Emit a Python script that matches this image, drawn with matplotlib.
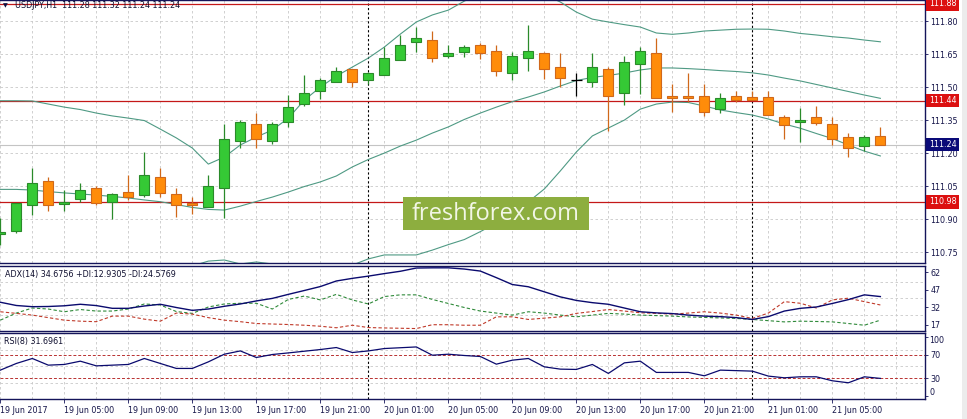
import matplotlib as mpl

mpl.use("Agg")

import matplotlib.pyplot as plt
import matplotlib.transforms as mtransforms
from matplotlib.patches import Rectangle

# ---- data (USDJPY H1, 19-21 Jun 2017) ----
OPENS = [110.832, 110.848, 110.964, 111.073, 110.971, 110.991, 111.041, 110.980, 111.023, 111.010,
         111.091, 111.015, 110.974, 110.955, 111.041, 111.255, 111.332, 111.255, 111.341, 111.423,
         111.483, 111.524, 111.582, 111.532, 111.555, 111.623, 111.705, 111.714, 111.641, 111.662,
         111.691, 111.664, 111.564, 111.632, 111.655, 111.591, 111.532, 111.523, 111.582, 111.473,
         111.605, 111.655, 111.462, 111.462, 111.462, 111.403, 111.462, 111.455, 111.455, 111.364,
         111.341, 111.364, 111.332, 111.273, 111.232, 111.280]
HIGHS = [110.906, 110.974, 111.135, 111.094, 111.033, 111.065, 111.051, 111.021, 111.101, 111.205,
         111.135, 111.041, 111.003, 111.101, 111.333, 111.351, 111.382, 111.341, 111.465, 111.556,
         111.541, 111.592, 111.582, 111.571, 111.682, 111.736, 111.773, 111.756, 111.692, 111.692,
         111.700, 111.692, 111.662, 111.783, 111.662, 111.655, 111.566, 111.655, 111.591, 111.641,
         111.682, 111.723, 111.515, 111.565, 111.515, 111.473, 111.483, 111.483, 111.483, 111.373,
         111.405, 111.414, 111.364, 111.291, 111.282, 111.320]
LOWS = [110.783, 110.839, 110.920, 110.939, 110.939, 110.980, 110.965, 110.903, 110.988, 111.003,
        111.003, 110.912, 110.924, 110.955, 110.905, 111.223, 111.223, 111.241, 111.321, 111.415,
        111.445, 111.524, 111.503, 111.514, 111.555, 111.623, 111.662, 111.614, 111.632, 111.639,
        111.629, 111.553, 111.532, 111.573, 111.539, 111.500, 111.462, 111.500, 111.303, 111.421,
        111.470, 111.453, 111.389, 111.435, 111.371, 111.382, 111.432, 111.442, 111.373, 111.264,
        111.253, 111.330, 111.239, 111.182, 111.212, 111.240]
CLOSES = [110.841, 110.973, 111.064, 110.964, 110.980, 111.032, 110.973, 111.014, 111.003, 111.101,
          111.021, 110.964, 110.964, 111.051, 111.264, 111.341, 111.264, 111.332, 111.412, 111.473,
          111.532, 111.574, 111.523, 111.564, 111.632, 111.691, 111.723, 111.632, 111.655, 111.682,
          111.655, 111.573, 111.641, 111.664, 111.582, 111.541, 111.532, 111.591, 111.462, 111.614,
          111.664, 111.453, 111.453, 111.453, 111.389, 111.453, 111.442, 111.442, 111.373, 111.330,
          111.350, 111.339, 111.264, 111.223, 111.273, 111.240]

BB_UPPER = [111.439, 111.439, 111.438, 111.424, 111.410, 111.399, 111.383, 111.370, 111.360, 111.349,
            111.310, 111.270, 111.224, 111.151, 111.183, 111.238, 111.274, 111.306, 111.360, 111.442,
            111.501, 111.551, 111.592, 111.633, 111.683, 111.742, 111.797, 111.829, 111.851, 111.892,
            111.924, 111.942, 111.951, 111.942, 111.920, 111.888, 111.842, 111.810, 111.797, 111.785,
            111.774, 111.747, 111.741, 111.747, 111.756, 111.760, 111.764, 111.765, 111.764, 111.756,
            111.745, 111.738, 111.730, 111.724, 111.715, 111.707]
BB_MIDDLE = [111.036, 111.036, 111.033, 111.026, 111.020, 111.015, 111.010, 111.004, 110.997, 110.988,
             110.980, 110.967, 110.954, 110.945, 110.942, 110.960, 110.981, 111.001, 111.024, 111.049,
             111.070, 111.097, 111.138, 111.172, 111.201, 111.233, 111.260, 111.292, 111.320, 111.354,
             111.383, 111.410, 111.435, 111.456, 111.479, 111.506, 111.531, 111.545, 111.554, 111.565,
             111.579, 111.588, 111.588, 111.585, 111.581, 111.576, 111.572, 111.566, 111.556, 111.542,
             111.529, 111.513, 111.497, 111.481, 111.465, 111.450]
BB_LOWER = [110.634, 110.634, 110.629, 110.629, 110.629, 110.631, 110.638, 110.638, 110.633, 110.626,
            110.650, 110.665, 110.688, 110.710, 110.715, 110.697, 110.706, 110.697, 110.688, 110.656,
            110.638, 110.642, 110.692, 110.720, 110.738, 110.738, 110.738, 110.760, 110.785, 110.808,
            110.844, 110.883, 110.929, 110.979, 111.038, 111.120, 111.206, 111.279, 111.315, 111.351,
            111.401, 111.424, 111.433, 111.431, 111.415, 111.397, 111.385, 111.374, 111.356, 111.333,
            111.314, 111.290, 111.267, 111.238, 111.210, 111.188]

ADX = [36.19, 33.40, 32.36, 32.53, 33.14, 34.45, 33.32, 30.96, 30.96, 32.97,
       34.45, 31.66, 29.22, 30.35, 32.71, 34.71, 37.33, 39.51, 42.99, 46.31,
       49.71, 54.50, 56.77, 58.69, 60.87, 62.87, 65.66, 65.84, 65.84, 64.79,
       63.05, 57.38, 51.45, 49.53, 45.17, 40.81, 37.76, 35.84, 34.45, 31.22,
       28.00, 27.04, 26.43, 25.12, 24.25, 23.81, 22.94, 21.37, 23.81, 28.61,
       30.96, 32.10, 35.15, 38.46, 42.56, 41.08]
PLUS_DI = [20.76, 26.86, 31.22, 30.35, 28.00, 29.92, 28.61, 28.61, 30.35, 34.71,
           33.84, 28.17, 26.60, 32.10, 34.71, 35.32, 35.32, 30.35, 38.63, 41.51,
           38.20, 42.99, 38.20, 34.71, 41.08, 42.56, 42.56, 38.63, 35.14, 31.66,
           28.61, 26.86, 25.12, 28.00, 26.86, 25.12, 23.64, 25.12, 26.60, 25.99,
           25.12, 24.69, 24.25, 23.55, 23.12, 22.68, 22.25, 21.37, 20.33, 19.28,
           19.89, 19.63, 19.28, 17.88, 16.40, 20.76]
MINUS_DI = [28.00, 26.60, 25.12, 22.94, 20.76, 19.89, 19.45, 24.25, 24.25, 21.63,
            19.89, 26.86, 25.99, 22.94, 20.76, 19.45, 17.88, 17.45, 17.01, 16.40,
            15.53, 14.22, 16.40, 14.40, 14.05, 13.79, 13.53, 16.84, 16.84, 16.40,
            16.40, 23.64, 23.64, 21.37, 22.50, 23.64, 26.60, 28.18, 29.92, 28.61,
            27.13, 26.60, 25.99, 26.86, 28.00, 26.86, 25.12, 22.25, 26.86, 36.72,
            35.32, 31.22, 38.20, 39.68, 36.72, 33.84]
RSI = [43.83, 55.00, 63.33, 52.17, 53.33, 58.83, 51.00, 52.17, 53.33, 63.33,
       55.00, 46.67, 46.67, 57.67, 70.50, 76.00, 65.00, 70.00, 72.67, 75.50,
       78.33, 81.67, 73.33, 76.00, 80.00, 81.33, 82.67, 68.83, 70.50, 68.33,
       66.67, 53.83, 60.50, 63.33, 49.33, 45.50, 45.00, 53.33, 38.33, 56.00,
       58.83, 40.00, 40.00, 40.00, 34.33, 43.83, 43.00, 42.17, 33.83, 31.00,
       32.67, 32.67, 26.00, 22.67, 32.67, 30.00]

PRICE_TICKS = [110.75, 110.90, 111.05, 111.20, 111.35, 111.50, 111.65, 111.80]
RED_LEVELS = [111.88, 111.44, 110.98]
BID = 111.24
ADX_TICKS = [17, 32, 47, 62]
RSI_LEVELS = [30, 70]
DAY_STARTS = [23, 47]
TIME_TICKS = list(range(0, 56, 4))
TIME_LABELS = ["19 Jun 2017", "19 Jun 05:00", "19 Jun 09:00", "19 Jun 13:00", "19 Jun 17:00",
               "19 Jun 21:00", "20 Jun 01:00", "20 Jun 05:00", "20 Jun 09:00", "20 Jun 13:00",
               "20 Jun 17:00", "20 Jun 21:00", "21 Jun 01:00", "21 Jun 05:00"]

W, H = 967, 419
FRAME = "#14145a"
TXT = "#16164a"
GRID = "#c9c9c9"
BAND = "#4f9a84"

plt.rcParams["font.family"] = ["DejaVu Sans"]
plt.rcParams["font.size"] = 5.8

fig = plt.figure(figsize=(W / 100, H / 100), dpi=100)
fig.patch.set_facecolor("white")

right = 925 / W
ax_main = fig.add_axes([0, 1 - 263.3 / H, right, 263.3 / H])
ax_adx = fig.add_axes([0, 1 - 331.3 / H, right, 65.8 / H])
ax_rsi = fig.add_axes([0, 1 - 399.3 / H, right, 66.0 / H])

n = len(CLOSES)
xlim = (-0.02, 57.79)


def frame(ax):
    ax.set_xlim(*xlim)
    ax.spines["left"].set_visible(False)
    for side in ("top", "bottom", "right"):
        ax.spines[side].set_color(FRAME)
        ax.spines[side].set_linewidth(1.0)
    ax.yaxis.tick_right()
    ax.tick_params(axis="y", direction="out", length=2.5, width=0.6, colors=FRAME,
                   labelcolor=TXT, labelsize=5.8, pad=1.5)
    ax.tick_params(axis="x", length=0, labelbottom=False)
    for b in range(0, 58, 2):
        ax.axvline(b, color=GRID, lw=0.6, ls=(0, (3, 3)), zorder=0)
    for d in DAY_STARTS:
        ax.axvline(d, color="black", lw=0.8, ls=(0, (2, 2)), zorder=1)


# ---- main price panel ----
frame(ax_main)
ax_main.set_ylim(110.700, 111.897)
ax_main.set_yticks(PRICE_TICKS)
ax_main.set_yticklabels([f"{p:.2f}" for p in PRICE_TICKS])
for p in PRICE_TICKS:
    ax_main.axhline(p, color=GRID, lw=0.6, ls=(0, (3, 3)), zorder=0)
ax_main.axhline(BID, color="#c4c4c4", lw=0.8, zorder=0.5)
for lvl in RED_LEVELS:
    ax_main.axhline(lvl, color="#c41818", lw=0.9, zorder=1)

xs = list(range(n))
for band in (BB_UPPER, BB_MIDDLE, BB_LOWER):
    ax_main.plot(xs, band, color=BAND, lw=0.8, zorder=2)

for i in range(n):
    o, h, l, c = OPENS[i], HIGHS[i], LOWS[i], CLOSES[i]
    if c > o:
        fill, edge = "#35c935", "#2a8a2a"
    elif c < o:
        fill, edge = "#ff8c0a", "#d0681a"
    else:
        fill, edge = None, "black"
    ax_main.vlines(i, l, h, color=edge, lw=0.9, zorder=3)
    if fill is None:
        ax_main.hlines(o, i - 0.33, i + 0.33, color=edge, lw=0.9, zorder=4)
    else:
        ax_main.bar(i, abs(c - o), bottom=min(o, c), width=0.62, color=fill,
                    edgecolor=edge, linewidth=0.8, zorder=4)

lab_tr = mtransforms.blended_transform_factory(ax_main.transAxes, ax_main.transData)
for lvl in RED_LEVELS:
    ax_main.text(1.004, lvl, f"{lvl:.2f}", transform=lab_tr, ha="left", va="center",
                 color="white", fontsize=5.8, clip_on=False, zorder=10,
                 bbox=dict(boxstyle="square,pad=0.3", fc="#dc1010", ec="none"))
ax_main.text(1.004, BID, f"{BID:.2f}", transform=lab_tr, ha="left", va="center",
             color="white", fontsize=5.8, clip_on=False, zorder=10,
             bbox=dict(boxstyle="square,pad=0.3", fc="#0a0a78", ec="none"))

ax_main.text(3 / 925, 1 - 6 / 263.3, "\u25bc", transform=ax_main.transAxes, ha="left",
             va="center", fontsize=4.5, color="#101040")
ax_main.text(15 / 925, 1 - 6 / 263.3, "USDJPY,H1  111.28 111.32 111.24 111.24",
             transform=ax_main.transAxes, ha="left", va="center", color="#101030")

# ---- ADX panel ----
frame(ax_adx)
ax_adx.set_ylim(11.17, 67.84)
ax_adx.set_yticks(ADX_TICKS)
ax_adx.set_yticklabels([str(t) for t in ADX_TICKS])
for q in (0.25, 0.5, 0.75):
    ax_adx.axhline(11.17 + q * (67.84 - 11.17), color=GRID, lw=0.6, ls=(0, (3, 3)), zorder=0)
ax_adx.plot(xs, PLUS_DI, color="#2f8a3a", lw=0.8, ls=(0, (3, 2)), zorder=2)
ax_adx.plot(xs, MINUS_DI, color="#c03a2a", lw=0.8, ls=(0, (3, 2)), zorder=2)
ax_adx.plot(xs, ADX, color="#0a0a6e", lw=1.0, zorder=3)
ax_adx.text(5 / 925, 0.87, "ADX(14) 34.6756 +DI:12.9305 -DI:24.5769",
            transform=ax_adx.transAxes, ha="left", va="center", color="#101030")

# ---- RSI panel ----
frame(ax_rsi)
ax_rsi.set_ylim(-5.0, 105.5)
ax_rsi.set_yticks([0, 30, 70, 100])
ax_rsi.set_yticklabels(["", "30", "70", ""])
rsi_tr = mtransforms.blended_transform_factory(ax_rsi.transAxes, ax_rsi.transData)
ax_rsi.text(1.0 + 4.5 / 925, 92.7, "100", transform=rsi_tr, ha="left", va="center",
            color=TXT, clip_on=False)
ax_rsi.text(1.0 + 4.5 / 925, 6.0, "0", transform=rsi_tr, ha="left", va="center",
            color=TXT, clip_on=False)
for q in (0.25, 0.5, 0.75):
    ax_rsi.axhline(-5.0 + q * 110.5, color=GRID, lw=0.6, ls=(0, (3, 3)), zorder=0)
for lvl in RSI_LEVELS:
    ax_rsi.axhline(lvl, color="#b83030", lw=0.7, ls=(0, (3, 2)), zorder=1)
ax_rsi.plot(xs, RSI, color="#0a0a6e", lw=0.9, zorder=3)
ax_rsi.text(4 / 925, 0.87, "RSI(8) 31.6961", transform=ax_rsi.transAxes,
            ha="left", va="center", color="#101030")

ax_rsi.set_xticks(TIME_TICKS)
ax_rsi.set_xticklabels(TIME_LABELS, ha="left")
ax_rsi.tick_params(axis="x", length=3, width=0.6, colors=FRAME, labelcolor=TXT,
                   labelbottom=True, labelsize=5.8, pad=1.5)

# ---- watermark and window edge ----
fig.patches.append(Rectangle((402.7 / W, 1 - 230 / H), 186 / W, 32.7 / H,
                             transform=fig.transFigure, fc="#8dae3f", ec="none", zorder=20))
fig.text(495.7 / W, 1 - 213.5 / H, "freshforex.com", ha="center", va="center",
         family=["Open Sans", "DejaVu Sans"], fontsize=17, color="#f2f6e6", zorder=21)
fig.patches.append(Rectangle((962 / W, 0), 5 / W, 1, transform=fig.transFigure,
                             fc="#ececec", ec="none", zorder=0))

fig.savefig("out.png", dpi=100)
